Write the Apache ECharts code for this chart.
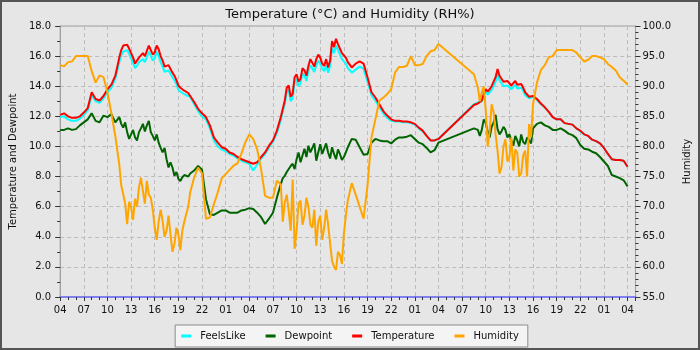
<!DOCTYPE html>
<html><head><meta charset="utf-8">
<script src="https://cdn.jsdelivr.net/npm/echarts@6/dist/echarts.min.js"></script>
<style>
html,body{margin:0;padding:0;background:#e6e6e6;}
#c{width:700px;height:350px;position:absolute;left:0;top:0;}
#frame{position:absolute;left:0;top:0;width:700px;height:350px;box-sizing:border-box;border:2px solid #555;pointer-events:none;}
</style></head>
<body><div id="c"></div><div id="frame"></div>
<script>
// hours since 04:00 of the first day (half-hour readings)
const times = [
 0,0.5,1,1.5,2,2.5,3,3.5,4,4.5,
 5,5.5,6,6.5,7,7.5,8,8.5,9,9.5,
 10,10.5,11,11.5,12,12.5,13,13.5,14,14.5,
 15,15.5,16,16.5,17,17.5,18,18.5,19,19.5,
 20,20.5,21,21.5,22,22.5,23,23.5,24,24.5,
 25,25.5,26,26.5,27,27.5,28,28.5,29,29.5,
 30,30.5,31,31.5,32,32.5,33,33.5,34,34.5,
 35,35.5,36,36.5,37,37.5,38,38.5,39,39.5,
 40,40.5,41,41.5,42,42.5,43,43.5,44,44.5,
 45,45.5,46,46.5,47,47.5,48,
 52.5,53,53.5,54,54.5,55,55.5,56,56.5,57,
 57.5,58,58.5,59,59.5,60,60.5,61,61.5,62,
 62.5,63,63.5,64,64.5,65,65.5,66,66.5,67,
 67.5,68,68.5,69,69.5,70,70.5,71,71.5,72
];
const temperature = [
 12.1,12.2,12.0,11.9,11.9,12.0,12.25,12.55,13.6,13.15,
 13.05,13.35,13.8,14.1,14.7,15.9,16.7,16.75,16.45,15.5,
 15.9,16.2,16.35,16.75,16.25,16.45,15.7,15.25,15.35,14.7,
 14.05,13.8,13.6,13.45,12.95,12.5,12.2,11.95,11.4,10.6,
 10.25,9.95,9.85,9.6,9.5,9.3,9.15,9.05,8.95,8.85,
 8.95,9.3,9.6,10.05,10.4,11.05,11.95,13.05,14.05,13.5,
 14.8,14.5,15.05,15.35,15.9,15.8,15.9,15.35,15.25,17.0,
 17.15,16.7,16.2,15.6,15.25,15.5,15.65,15.5,14.6,13.6,
 13.25,12.8,12.35,12.05,11.8,11.7,11.7,11.65,11.65,11.6,
 11.5,11.25,11.05,10.7,10.4,10.4,10.5,
 12.75,12.85,13.05,13.8,13.8,13.95,15.15,14.5,14.2,14.25,
 14.15,14.1,14.15,13.6,13.3,13.35,13.15,12.85,12.6,12.3,
 11.95,11.8,11.8,11.55,11.5,11.45,11.2,11.05,10.8,10.7,
 10.45,10.35,10.2,9.9,9.5,9.15,9.1,9.1,9.05,8.65
];
const feelsLike = [
 11.95,12.0,11.8,11.7,11.7,11.85,12.1,12.4,13.4,13.0,
 12.9,13.2,13.6,13.9,14.5,15.6,16.3,16.4,16.1,15.2,
 15.6,15.8,15.95,16.35,15.85,16.0,15.3,14.9,15.0,14.4,
 13.75,13.55,13.4,13.3,12.8,12.35,12.0,11.8,11.2,10.4,
 10.0,9.8,9.7,9.5,9.4,9.2,9.05,8.95,8.85,8.4,
 8.8,9.2,9.5,9.95,10.3,10.9,11.75,12.8,13.75,13.2,
 14.45,14.2,14.7,15.0,15.5,15.4,15.5,15.0,14.9,16.55,
 16.7,16.3,15.8,15.2,14.9,15.1,15.3,15.15,14.3,13.4,
 13.05,12.6,12.2,11.9,11.7,11.65,11.65,11.6,11.6,11.55,
 11.45,11.2,11.0,10.7,10.4,10.4,10.5,
 12.8,12.9,13.0,13.6,13.6,13.75,14.8,14.2,13.95,14.0,
 13.9,13.85,13.9,13.4,13.2,13.3,13.1,12.8,12.6,12.3,
 11.95,11.8,11.8,11.55,11.5,11.45,11.2,11.0,10.8,10.7,
 10.45,10.35,10.2,9.9,9.5,9.15,9.1,9.1,9.05,8.65
];
const dewpoint = [
 11.1,11.1,11.2,11.1,11.15,11.4,11.6,11.8,12.2,11.7,
 11.6,12.05,11.95,12.15,11.6,11.95,11.25,10.95,10.8,10.6,
 10.95,11.5,11.4,10.95,10.4,10.25,9.6,9.15,8.95,8.05,
 7.85,7.95,8.15,8.2,8.4,8.7,8.45,6.5,5.5,5.45,
 5.6,5.75,5.75,5.6,5.6,5.6,5.75,5.8,5.9,5.85,
 5.6,5.3,4.85,5.2,5.6,6.6,7.5,8.05,8.4,8.85,
 9.15,8.95,9.85,10.05,9.5,9.05,10.15,9.6,9.6,9.95,
 9.15,9.5,9.3,9.95,10.5,10.45,9.95,9.45,9.5,10.25,
 10.5,10.4,10.35,10.35,10.2,10.45,10.6,10.6,10.65,10.75,
 10.5,10.25,10.15,9.9,9.6,9.75,10.25,
 11.2,11.1,11.1,11.55,10.6,11.6,11.15,11.0,11.1,10.8,
 10.05,10.4,10.8,10.15,10.5,11.2,11.5,11.6,11.4,11.3,
 11.1,11.1,11.2,11.05,10.85,10.75,10.55,10.1,9.85,9.8,
 9.65,9.55,9.3,9.0,8.7,8.1,8.0,7.9,7.75,7.35
];
const humidity = [
 93.5,93.3,94.0,94.1,95.0,95.0,95.0,95.0,92.5,90.6,
 91.8,91.5,89.0,85.5,81.7,77.0,72.1,67.1,69.9,71.3,
 73.2,72.6,74.3,71.5,66.5,67.6,67.6,66.0,65.4,63.8,
 65.4,66.0,68.8,72.4,74.8,76.5,75.5,68.0,68.2,70.4,
 72.4,74.7,75.4,76.1,76.8,77.2,78.8,80.7,82.0,81.2,
 79.5,76.2,71.8,71.5,71.5,74.3,73.7,70.7,69.3,74.5,
 66.0,71.0,68.5,70.0,66.5,63.5,68.5,66.5,67.0,61.0,
 59.5,62.0,65.5,71.0,73.9,72.0,70.0,68.0,73.5,81.5,
 84.5,87.6,88.1,88.7,89.5,92.3,93.2,93.2,93.4,95.0,
 93.5,93.5,93.7,95.0,95.8,96.0,97.0,
 92.0,89.8,89.0,86.0,82.6,85.7,79.3,76.5,81.2,78.2,
 76.0,79.0,75.5,79.3,83.7,87.0,90.6,92.7,93.5,94.8,
 95.0,96.0,96.0,96.0,96.0,96.0,95.6,94.8,94.1,94.4,
 95.0,95.0,94.8,94.5,93.7,93.2,92.6,91.5,90.9,90.3
];
// extra quarter-hour readings in the noisy stretches
const timesQ = [
 7.75,8.25,8.75,9.25,9.75,10.25,10.75,11.25,11.75,12.25,12.75,13.25,13.75,14.25,14.75,15.25,15.75,16.25,
 28.25,28.75,29.25,29.75,30.25,30.75,31.25,31.75,32.25,32.75,33.25,33.75,34.25,34.75,35.25,35.75,36.25,
 53.25,53.75,54.25,54.75,55.25,55.75,56.25,56.75,57.25,57.75,58.25,58.75,59.25,59.75
];
const temperatureQ = [
 16.4,16.6,16.5,15.9,15.7,15.95,16.0,16.7,16.1,16.7,16.0,15.3,15.4,14.9,14.4,13.9,13.7,13.55,
 12.5,13.9,13.3,14.6,14.3,15.2,14.7,15.8,15.3,16.1,15.5,15.8,15.7,16.6,16.8,16.2,15.9,
 12.95,13.5,13.65,14.0,14.6,14.7,14.3,14.35,14.05,14.35,14.0,13.9,13.45,13.2
];
const feelsLikeQ = [
 16.05,16.2,16.15,15.55,15.35,15.6,15.6,16.3,15.7,16.3,15.6,14.95,15.05,14.6,14.15,13.65,13.5,13.35,
 12.35,13.6,13.0,14.3,14.0,14.85,14.35,15.4,14.95,15.7,15.15,15.4,15.35,16.2,16.4,15.8,15.5,
 12.95,13.4,13.45,13.75,14.3,14.4,14.0,14.05,13.8,14.1,13.75,13.7,13.3,13.15
];
const dewpointQ = [
 11.5,11.6,10.5,11.1,10.4,11.2,11.0,11.7,10.7,10.8,9.9,9.9,8.6,8.6,8.3,7.7,8.1,8.0,
 7.9,8.3,8.7,8.5,9.6,9.4,9.3,9.6,10.2,9.6,9.5,10.2,9.2,9.5,9.8,9.1,9.6,
 10.7,11.8,11.0,11.3,12.1,10.8,11.3,10.6,10.4,10.7,10.0,10.3,10.6,10.2
];
const humidityQ = [
 73.5,70.5,70.8,67.8,70.0,74.8,70.5,72.0,69.5,64.5,69.5,65.0,68.5,62.5,66.5,62.8,67.5,70.0,
 67.5,72.0,66.0,63.0,70.5,67.0,71.5,67.0,69.5,67.5,64.5,69.5,64.0,60.0,62.5,60.5,68.5,
 87.5,90.0,80.0,87.0,82.0,75.5,80.0,77.5,81.5,79.5,75.0,78.5,75.0,81.5
];
const seriesNames = ['FeelsLike','Dewpoint','Temperature','Humidity'];
const seriesColors = ['#00ffff','#006400','#ff0000','#ffa500'];
const startHour = 4;

function merged(vals, valsQ){
  const pts = times.map((t,i)=>[t, vals[i]]).concat(timesQ.map((t,i)=>[t, valsQ[i]]));
  pts.sort((a,b)=>a[0]-b[0]);
  return pts;
}
const FONT = 'DejaVu Sans';
const chart = echarts.init(document.getElementById('c'), null, {renderer:'canvas'});
const lineS = (name, vals, valsQ, yi) => ({
  name, type:'line', xAxisIndex:0, yAxisIndex:yi, data:merged(vals, valsQ),
  showSymbol:false, symbol:'none', lineStyle:{width:2}, emphasis:{disabled:true}
});
chart.setOption({
  animation:false,
  backgroundColor:'#e6e6e6',
  color:seriesColors,
  textStyle:{fontFamily:FONT},
  title:{text:'Temperature (°C) and Humidity (RH%)', left:'center', top:3,
    textStyle:{fontSize:13, fontWeight:'normal', color:'#111', fontFamily:FONT}},
  grid:{left:55, right:60, top:26, bottom:53, show:true, borderColor:'#a0a0a0', borderWidth:1},
  legend:{bottom:3, left:'center', data:seriesNames, icon:'rect', itemWidth:10, itemHeight:3, itemGap:20,
    backgroundColor:'#f4f4f4', borderColor:'#8c8c8c', borderWidth:1, borderRadius:0, padding:[6,9,6,6],
    textStyle:{fontSize:10, color:'#111', fontFamily:FONT, padding:[0,0,0,4]}},
  xAxis:{type:'value', min:0, max:73, interval:3,
    axisLine:{show:true, onZero:false, lineStyle:{color:'#8080f0', width:2}},
    axisTick:{show:true, length:4, lineStyle:{color:'#333'}},
    minorTick:{show:true, splitNumber:3, length:3, lineStyle:{color:'#333'}},
    axisLabel:{fontSize:10, color:'#111', margin:8, fontFamily:FONT,
      formatter:v=>{ if (Math.abs(v/3-Math.round(v/3))>1e-6) return ''; return String((startHour+Math.round(v))%24).padStart(2,'0'); }},
    splitLine:{show:true, lineStyle:{color:'#bcbcbc', type:[4,3]}}},
  yAxis:[
    {type:'value', min:0, max:18, interval:2, position:'left',
     name:'Temperature and Dewpoint', nameLocation:'middle', nameGap:32, nameRotate:90,
     nameTextStyle:{fontSize:10, color:'#111', fontFamily:FONT},
     axisLine:{show:true, lineStyle:{color:'#a0a0a0'}},
     axisTick:{show:true, length:5, lineStyle:{color:'#333'}},
     minorTick:{show:true, splitNumber:2, length:3, lineStyle:{color:'#333'}},
     axisLabel:{fontSize:10, color:'#111', margin:9, fontFamily:FONT, formatter:v=>v.toFixed(1)},
     splitLine:{show:true, lineStyle:{color:'#bcbcbc', type:[4,3]}}},
    {type:'value', min:55, max:100, interval:5, position:'right',
     name:'Humidity', nameLocation:'middle', nameGap:32, nameRotate:90,
     nameTextStyle:{fontSize:10, color:'#111', fontFamily:FONT},
     axisLine:{show:true, lineStyle:{color:'#a0a0a0'}},
     axisTick:{show:true, length:5, lineStyle:{color:'#333'}},
     minorTick:{show:true, splitNumber:5, length:3, lineStyle:{color:'#333'}},
     axisLabel:{fontSize:10, color:'#111', margin:7, fontFamily:FONT, formatter:v=>v.toFixed(1)},
     splitLine:{show:false}}
  ],
  series:[
    lineS('FeelsLike', feelsLike, feelsLikeQ, 0),
    lineS('Dewpoint', dewpoint, dewpointQ, 0),
    lineS('Temperature', temperature, temperatureQ, 0),
    lineS('Humidity', humidity, humidityQ, 1)
  ]
});
</script>
</body></html>
